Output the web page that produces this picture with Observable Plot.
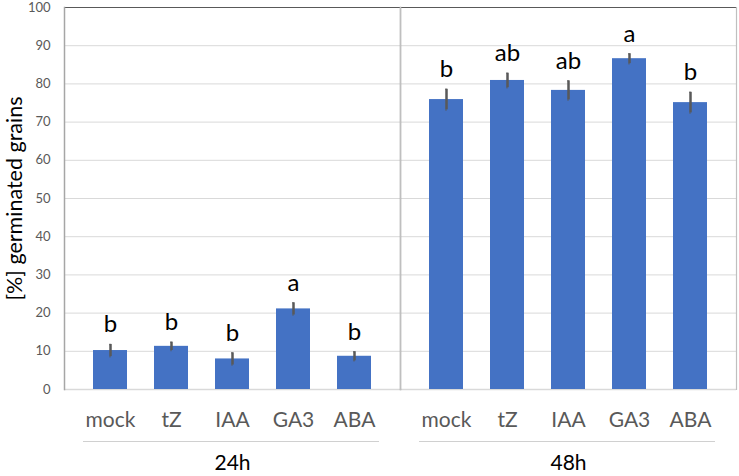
<!DOCTYPE html>
<html>
<head>
<meta charset="utf-8">
<script src="https://cdn.jsdelivr.net/npm/d3@7"></script>
<script src="https://cdn.jsdelivr.net/npm/@observablehq/plot@0.6"></script>
<style>
  html, body { margin: 0; padding: 0; background: #fff; }
  #chart svg { font-family: Lato, "Open Sans", sans-serif; }
</style>
</head>
<body>
<div id="chart"></div>
<script>
const treatments = ["mock", "tZ", "IAA", "GA3", "ABA"];
const times = ["24h", "48h"];
const mean24 = [10.2, 11.3, 8.0, 21.1, 8.7];
const err24 = [1.6, 1.1, 1.6, 1.6, 1.2];
const letters24 = ["b", "b", "b", "a", "b"];
const mean48 = [75.9, 80.9, 78.3, 86.6, 75.1];
const err48 = [2.7, 1.9, 2.5, 1.3, 2.7];
const letters48 = ["b", "ab", "ab", "a", "b"];
const yTicks = [0, 10, 20, 30, 40, 50, 60, 70, 80, 90, 100];

const series = {
  "24h": {mean: mean24, err: err24, letters: letters24},
  "48h": {mean: mean48, err: err48, letters: letters48}
};
const data = times.flatMap(t => treatments.map((tr, i) => ({
  time: t,
  treatment: tr,
  value: series[t].mean[i],
  lo: series[t].mean[i] - series[t].err[i],
  hi: series[t].mean[i] + series[t].err[i],
  letter: series[t].letters[i]
})));

const chart = Plot.plot({
  width: 739,
  height: 476,
  marginLeft: 64,
  marginRight: 3,
  marginTop: 7,
  marginBottom: 87,
  fx: {domain: times, padding: 0, axis: null},
  x: {domain: treatments, padding: 0.435, axis: null},
  y: {domain: [0, 100], axis: null},
  marks: [
    Plot.gridY(yTicks.slice(1, -1), {stroke: "#d9d9d9", strokeOpacity: 1, strokeWidth: 1}),
    Plot.ruleY([0], {stroke: "#d9d9d9", strokeWidth: 1.5}),
    Plot.ruleY([100], {stroke: "#595959", strokeWidth: 1}),
    Plot.frame({anchor: "left", stroke: "#a6a6a6", strokeWidth: 1.5}),
    Plot.frame({anchor: "right", stroke: "#bfbfbf", strokeWidth: 1.2}),
    Plot.barY(data, {fx: "time", x: "treatment", y: "value", fill: "#4472C4"}),
    Plot.ruleX(data, {fx: "time", x: "treatment", y1: "lo", y2: "hi", stroke: "#595959", strokeWidth: 2.5}),
    Plot.tickY(data, {fx: "time", x: "treatment", y: "hi", stroke: "#595959", strokeWidth: 1.5, insetLeft: 17.5, insetRight: 17.5}),
    Plot.tickY(data, {fx: "time", x: "treatment", y: "lo", stroke: "#595959", strokeWidth: 1.5, insetLeft: 17.5, insetRight: 17.5}),
    Plot.text(data, {fx: "time", x: "treatment", y: "hi", text: "letter", lineAnchor: "bottom", dy: -12, fontSize: 24, fill: "#000"}),
    Plot.ruleY([0], {dy: 52, insetLeft: 19, insetRight: 21, stroke: "#d0d0d0", strokeWidth: 1.2}),
    Plot.axisX({anchor: "bottom", tickSize: 0, tickPadding: 23, fontSize: 21, color: "#595959", label: null}),
    Plot.axisFx({anchor: "bottom", tickSize: 0, tickPadding: 66, fontSize: 21, color: "#000", label: null}),
    Plot.axisY(yTicks, {anchor: "left", tickSize: 0, tickPadding: 14, fontSize: 13, color: "#595959", label: null}),
    Plot.axisY({anchor: "left", ticks: [], tickSize: 0, fontSize: 21.5, color: "#000",
      label: "[%] germinated grains", labelAnchor: "center", labelArrow: "none", labelOffset: 58})
  ]
});
document.getElementById("chart").appendChild(chart);
</script>
</body>
</html>
